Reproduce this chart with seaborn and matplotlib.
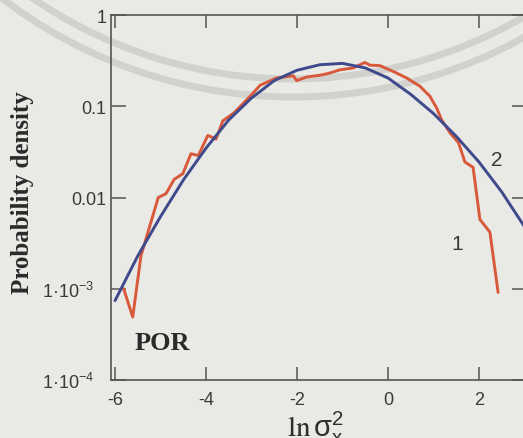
import matplotlib
matplotlib.use("Agg")
import matplotlib.pyplot as plt
import seaborn as sns
from matplotlib.patches import Circle
from matplotlib.ticker import FixedLocator, FixedFormatter, NullLocator
from matplotlib.transforms import IdentityTransform, ScaledTranslation

# Curve 1: measured distribution of ln(sigma_x^2)
measured_x = [-5.81, -5.61, -5.43, -5.05, -4.88, -4.70, -4.51, -4.33, -4.17, -3.96,
              -3.78, -3.63, -3.38, -3.01, -2.81, -2.45, -2.08, -2.01, -1.79, -1.49,
              -1.31, -1.05, -0.76, -0.51, -0.40, -0.18, 0.12, 0.41, 0.70, 0.92,
              1.07, 1.18, 1.36, 1.55, 1.69, 1.87, 2.02, 2.24, 2.42]
measured_density = [1.00e-3, 4.9e-4, 2.29e-3, 0.0100, 0.0110, 0.0158, 0.0182, 0.0302, 0.0288, 0.0479,
                    0.0437, 0.0692, 0.0851, 0.132, 0.170, 0.204, 0.216, 0.191, 0.209, 0.219,
                    0.229, 0.251, 0.263, 0.302, 0.282, 0.279, 0.240, 0.204, 0.166, 0.129,
                    0.0955, 0.0708, 0.0513, 0.0398, 0.0245, 0.0214, 0.00575, 0.00417, 0.00091]

# Curve 2: normal (log-normal) approximation
normal_x = [-6.0, -5.5, -5.0, -4.5, -4.0, -3.5, -3.0, -2.5, -2.0, -1.5,
            -1.0, -0.5, 0.0, 0.5, 1.0, 1.5, 2.0, 2.5, 3.0]
normal_density = [7.41e-4, 2.29e-3, 6.17e-3, 0.0155, 0.0347, 0.0708, 0.123, 0.191, 0.248, 0.285,
                  0.295, 0.263, 0.204, 0.135, 0.0832, 0.0468, 0.0245, 0.0115, 0.00479]

x_ticks = [-6, -4, -2, 0, 2]
x_tick_labels = ["-6", "-4", "-2", "0", "2"]
y_ticks = [1e-4, 1e-3, 1e-2, 1e-1, 1]
y_tick_labels = [r"$\mathregular{1·10^{-4}}$", r"$\mathregular{1·10^{-3}}$", "0.01", "0.1", "1"]

PAPER = "#e9e9e5"
RED = "#d9593b"
BLUE = "#3f4a8c"
INK = "#3a3a3a"
AXIS = "#555555"

sns.set_theme(style="ticks")
plt.rcParams["font.family"] = ["Liberation Sans", "DejaVu Sans"]
plt.rcParams["mathtext.default"] = "regular"
plt.rcParams["mathtext.fontset"] = "stix"
plt.rcParams["axes.unicode_minus"] = False

W, H = 523, 439
fig = plt.figure(figsize=(W / 100, H / 100), dpi=100, facecolor=PAPER)

# faint concentric seal rings behind the plot
for radius in (460, 478):
    ring = Circle((293, H + 380), radius, transform=IdentityTransform(), fill=False,
                  edgecolor="#d1d1ce", linewidth=5.0, zorder=-1)
    fig.add_artist(ring)

ax = fig.add_axes([111 / W, 1 - 381 / H, 416 / W, 365 / H])
ax.set_facecolor("none")

sns.lineplot(x=measured_x, y=measured_density, color=RED, linewidth=2.1,
             estimator=None, sort=False, ax=ax)
sns.lineplot(x=normal_x, y=normal_density, color=BLUE, linewidth=2.1,
             estimator=None, sort=False, ax=ax)

ax.set_yscale("log")
ax.set_xlim(-6.088, 3.055)
ax.set_ylim(1e-4, 1)

ax.xaxis.set_major_locator(FixedLocator(x_ticks))
ax.xaxis.set_major_formatter(FixedFormatter(x_tick_labels))
ax.yaxis.set_major_locator(FixedLocator(y_ticks))
ax.yaxis.set_major_formatter(FixedFormatter(y_tick_labels))
ax.yaxis.set_minor_locator(NullLocator())
ax.xaxis.set_minor_locator(NullLocator())

ax.tick_params(axis="x", which="major", direction="in", top=True, bottom=True,
               length=9.5, width=1.1, color=AXIS, pad=8.0, labelsize=13, labelcolor=INK)
ax.tick_params(axis="y", which="major", direction="in", left=True, right=True,
               length=11, width=1.1, color=AXIS, pad=3.5, labelsize=13, labelcolor=INK)

for side in ("left", "right", "top", "bottom"):
    ax.spines[side].set_visible(True)
    ax.spines[side].set_color(AXIS)
    ax.spines[side].set_linewidth(1.2)

# the exponent labels sit a little further left
for lbl in ax.get_yticklabels()[:2]:
    lbl.set_transform(lbl.get_transform() + ScaledTranslation(-0.12, 0, fig.dpi_scale_trans))

ax.set_ylabel("Probability density", family="Liberation Serif", fontweight="bold",
              fontsize=18, color="#2a2a2a")
ax.yaxis.set_label_coords(-0.185, 0.515)

ax.set_xlabel(r"$\mathrm{ln}\,\sigma_x^2$", fontsize=21, color="#2e2e2e")
ax.xaxis.label.set_va("baseline")
ax.xaxis.set_label_coords(0.49, -0.154)

ax.text(-5.56, 2.6e-4, "POR", family="Liberation Serif", fontweight="bold",
        fontsize=19, color="#2a2a2a", ha="left", va="center")
ax.text(1.52, 3.1e-3, "1", fontsize=15, color=INK, ha="center", va="center")
ax.text(2.39, 0.026, "2", fontsize=15, color=INK, ha="center", va="center")

fig.savefig("out.png", dpi=100, facecolor=PAPER)
